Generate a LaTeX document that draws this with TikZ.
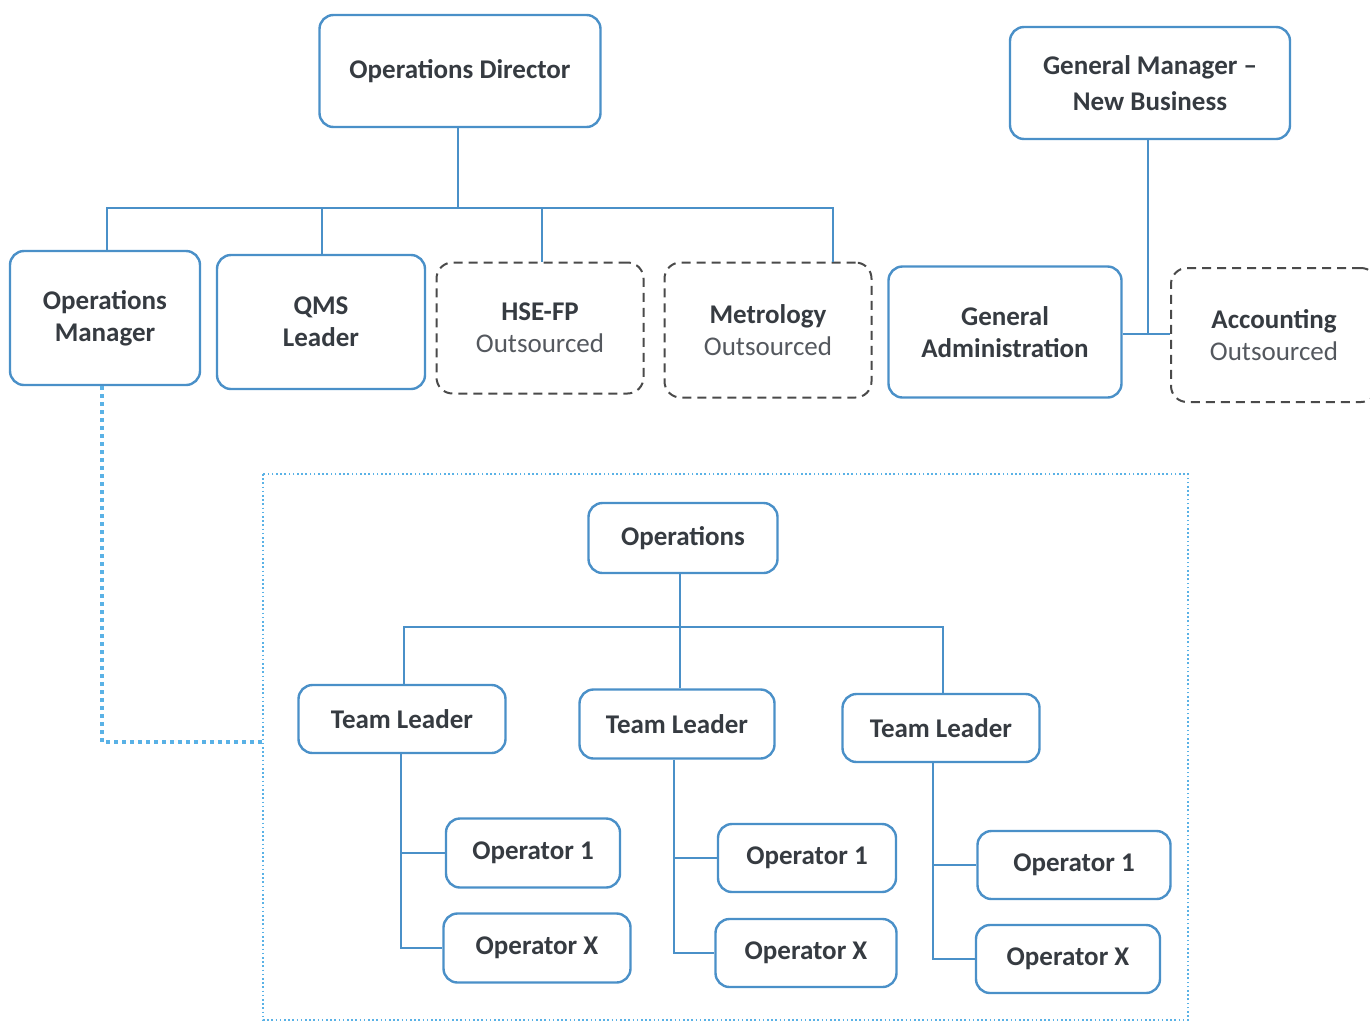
\documentclass[tikz,border=0pt]{standalone}
\usepackage{fontspec}
\setmainfont{Carlito}
\begin{document}
\begin{tikzpicture}[x=1pt,y=-1pt,
  every node/.style={font=\fontsize{27}{32}\selectfont\bfseries, text=txt, align=center, inner sep=0pt},
  boxb/.style={draw=bl, line width=2.4pt, rounded corners=14pt, fill=white},
  boxd/.style={draw=dg, line width=2pt, dashed, dash pattern=on 9pt off 6pt, rounded corners=16pt, fill=white},
  conn/.style={draw=bl, line width=2pt}
]
\definecolor{bl}{HTML}{4A90C8}
\definecolor{lb}{HTML}{5AB2E6}
\definecolor{dg}{HTML}{4A4A4A}
\definecolor{txt}{HTML}{363B41}
\useasboundingbox (0,0) rectangle (1370,1026);
\clip (0,0) rectangle (1370,1026);
\fill[white] (0,0) rectangle (1370,1026);

% top level
\node[boxb, minimum width=281pt, minimum height=112pt] (od) at (460,71) {Operations Director};
\node[boxb, minimum width=280pt, minimum height=112pt] (gm) at (1150,83) {General Manager --\\[4pt]New Business};

% second level
\node[boxb, minimum width=190pt, minimum height=134pt] (om) at (105,318) {Operations\\Manager};
\node[boxb, minimum width=208pt, minimum height=134pt] (qms) at (321,322) {QMS\\Leader};
\node[boxd, minimum width=207pt, minimum height=131pt] (hse) at (540,328) {HSE-FP\\{\mdseries\color{txt!85}Outsourced}};
\node[boxd, minimum width=207pt, minimum height=135pt] (met) at (768,330) {Metrology\\{\mdseries\color{txt!85}Outsourced}};
\node[boxb, minimum width=233pt, minimum height=131pt] (ga) at (1005,332) {General\\Administration};
\node[boxd, minimum width=206pt, minimum height=134pt] (acc) at (1274,335) {Accounting\\{\mdseries\color{txt!85}Outsourced}};

% bus from Operations Director
\coordinate (b0) at (458,208);
\draw[conn] (od.south -| b0) -- (b0);
\draw[conn] (om.north -| 107,0) |- (b0) -- (833,208) -- (met.north -| 833,0);
\draw[conn] (qms.north -| 322,0) -- (322,208);
\draw[conn] (hse.north -| 542,0) -- (542,208);

% GM connector
\coordinate (gj) at (1148,334);
\draw[conn] (gm.south -| gj) -- (gj);
\draw[conn] (ga.east |- gj) -- (acc.west |- gj);

% dotted frame
\draw[lb, line width=1.6pt, dash pattern=on 1.6pt off 2.6pt] (263,474) rectangle (1188,1020);
\coordinate (fl) at (263,742);
\draw[lb, line width=3.5pt, dash pattern=on 3.5pt off 4.5pt] (om.south -| 102,0) |- (fl);

% operations subtree
\node[boxb, minimum width=189pt, minimum height=70pt] (ops) at (683,538) {Operations};
\coordinate (b1) at (680,627);
\draw[conn] (ops.south -| b1) -- (b1);
\node[boxb, minimum width=207pt, minimum height=68pt] (tl1) at (402,719) {Team Leader};
\node[boxb, minimum width=195pt, minimum height=69pt] (tl2) at (677,724) {Team Leader};
\node[boxb, minimum width=197pt, minimum height=68pt] (tl3) at (941,728) {Team Leader};
\draw[conn] (tl1.north -| 404,0) |- (b1) -| (tl3.north -| 943,0);
\draw[conn] (b1) -- (tl2.north -| b1);

\node[boxb, minimum width=174pt, minimum height=69pt] (o11) at (533,853) {Operator 1};
\node[boxb, minimum width=187pt, minimum height=69pt] (o1x) at (537,948) {Operator X};
\node[boxb, minimum width=178pt, minimum height=68pt] (o21) at (807,858) {Operator 1};
\node[boxb, minimum width=181pt, minimum height=68pt] (o2x) at (806,953) {Operator X};
\node[boxb, minimum width=193pt, minimum height=68pt] (o31) at (1074,865) {Operator 1};
\node[boxb, minimum width=184pt, minimum height=68pt] (o3x) at (1068,959) {Operator X};

\draw[conn] (tl1.south -| 401,0) |- (o1x.west);
\draw[conn] (401,853) -- (o11.west);
\draw[conn] (tl2.south -| 674,0) |- (o2x.west);
\draw[conn] (674,858) -- (o21.west);
\draw[conn] (tl3.south -| 933,0) |- (o3x.west);
\draw[conn] (933,865) -- (o31.west);
\end{tikzpicture}
\end{document}
